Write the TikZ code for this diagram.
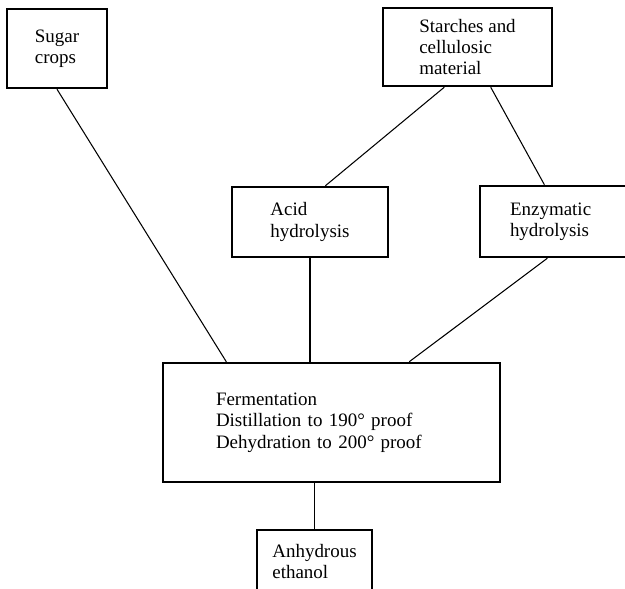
\documentclass[tikz,border=0pt]{standalone}
\usepackage{fontspec}
\setmainfont{Liberation Serif}
\usepackage{tikz}
\usetikzlibrary{positioning}
\tikzset{
    box/.style={rectangle, draw, line width=1.4pt, align=left, font=\fontsize{10.8}{12.2}\selectfont},
    link/.style={line width=0.6pt}
}

\begin{document}
\begin{tikzpicture}[
    node distance=2cm,
    source/.style={box, minimum width=2cm, minimum height=1.58cm}
]
    \useasboundingbox (0,0) rectangle (12.5,-11.78);
    \clip (0,0) rectangle (12.5,-11.78);

    % Raw materials
    \node[source] (sugar) at (1.14,-0.97) {Sugar\\ crops};
    \node[box, minimum width=3.38cm, minimum height=1.56cm] (starch) at (9.35,-0.94) {Starches and\\ cellulosic\\ material};

    % Hydrolysis steps
    \node[box, minimum width=3.12cm, minimum height=1.4cm] (acid) at (6.2,-4.44) {Acid\\ hydrolysis};
    \node[box, text width=2cm, inner xsep=0.6cm, minimum height=1.42cm] (enzym) at (11.2,-4.43) {Enzymatic\\ hydrolysis};

    % Processing
    \node[box, text width=4.62cm, inner xsep=1.06cm, minimum height=2.38cm] (ferment) at (6.63,-8.45) {Fermentation\\ Distillation to 190° proof\\ Dehydration to 200° proof};

    % Product
    \node[box, minimum width=2.3cm, minimum height=1.25cm] (anhyd) at (6.29,-11.23) {Anhydrous\\ ethanol};

    % Links
    \draw[link] (sugar.south) -- (ferment.150);
    \draw[link] (starch.240) -- (acid.67);
    \draw[link] (starch.300) -- (enzym.113);
    \draw[link] (acid.south) -- (acid.south |- ferment.north);
    \draw[link] (enzym.251) -- (ferment.38);
    \draw[link] (ferment.south -| anhyd.north) -- (anhyd.north);
\end{tikzpicture}
\end{document}
